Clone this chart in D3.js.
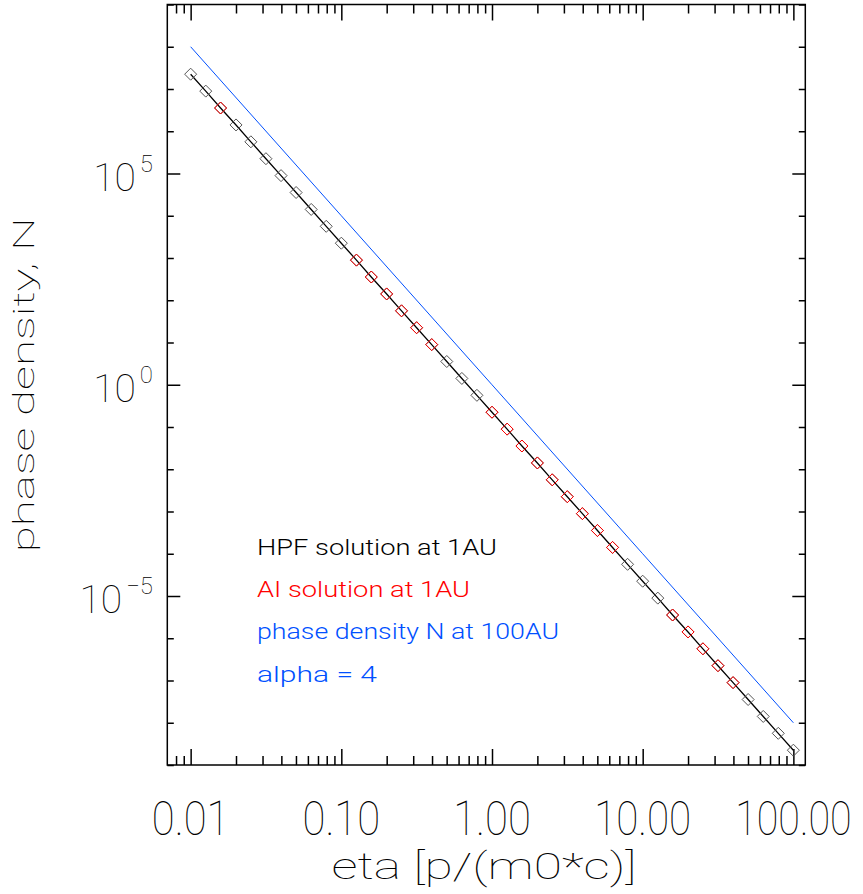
<!DOCTYPE html>
<html>
<head>
<meta charset="utf-8">
<script src="https://cdn.jsdelivr.net/npm/d3@7"></script>
<style>
  body { margin: 0; background: #fff; }
  text { font-family: Roboto, "DejaVu Sans", sans-serif; font-weight: 100; }
  text.legend { font-weight: 300; }
</style>
</head>
<body>
<div id="main"></div>
<script>
// eta grid (0.1 decade steps) and HPF solution at 1AU
let etaHPF = [0.0100, 0.0126, 0.0158, 0.0200, 0.0251, 0.0316, 0.0398, 0.0501, 0.0631, 0.0794,
	0.100, 0.126, 0.158, 0.200, 0.251, 0.316, 0.398, 0.501, 0.631, 0.794,
	1.00, 1.26, 1.58, 2.00, 2.51, 3.16, 3.98, 5.01, 6.31, 7.94,
	10.0, 12.6, 15.8, 20.0, 25.1, 31.6, 39.8, 50.1, 63.1, 79.4, 100];
let nHPF = [2.24e7, 8.91e6, 3.55e6, 1.41e6, 5.62e5, 2.24e5, 8.91e4, 3.55e4, 1.41e4, 5.62e3,
	2.24e3, 891, 355, 141, 56.2, 22.4, 8.91, 3.55, 1.41, 0.562,
	0.224, 0.0891, 0.0355, 0.0141, 5.62e-3, 2.24e-3, 8.91e-4, 3.55e-4, 1.41e-4, 5.62e-5,
	2.24e-5, 8.91e-6, 3.55e-6, 1.41e-6, 5.62e-7, 2.24e-7, 8.91e-8, 3.55e-8, 1.41e-8, 5.62e-9, 2.24e-9];

// AI solution at 1AU (red diamonds)
let etaAI = [0.0158,
	0.126, 0.158, 0.200, 0.251, 0.316, 0.398,
	1.00, 1.26, 1.58, 2.00, 2.51, 3.16, 3.98, 5.01, 6.31,
	15.8, 20.0, 25.1, 31.6, 39.8];
let nAI = [3.55e6,
	891, 355, 141, 56.2, 22.4, 8.91,
	0.224, 0.0891, 0.0355, 0.0141, 5.62e-3, 2.24e-3, 8.91e-4, 3.55e-4, 1.41e-4,
	3.55e-6, 1.41e-6, 5.62e-7, 2.24e-7, 8.91e-8];

// phase density N at 100AU
let eta100 = [0.01, 0.1, 1, 10, 100];
let n100 = [1e8, 1e4, 1, 1e-4, 1e-8];

let xTicks = [0.01, 0.1, 1, 10, 100];
let xTickLabels = ["0.01", "0.10", "1.00", "10.00", "100.00"];
let yTicks = [1e-5, 1, 1e5];
let yTickExp = ["\u22125", "0", "5"];

let legendLabels = ["HPF solution at 1AU", "AI solution at 1AU", "phase density N at 100AU", "alpha = 4"];
let legendColors = ["#000000", "#ff0000", "#0050ff", "#0050ff"];
let legendWidths = [240, 213, 302, 120];

const W = 863, H = 894;
const pLeft = 167.3, pRight = 805.3, pTop = 4.5, pBottom = 765;

let x = d3.scaleLog().domain([0.007, 120]).range([pLeft, pRight]);
let y = d3.scaleLog().domain([1e-9, 1e9]).range([pBottom, pTop]);

let svg = d3.select("#main").append("svg")
	.attr("width", W).attr("height", H);

// ticks
const xMinor = x.ticks().filter(v => !xTicks.some(t => Math.abs(t - v) / t < 1e-6) && v > 0.0075);
const yMinor = d3.range(-9, 10).map(e => Math.pow(10, e)).filter(v => !yTicks.includes(v));

const tickStyle = g => {
	g.select(".domain").remove();
	g.selectAll("line").attr("stroke", "#000").attr("stroke-width", 1.5);
	g.selectAll("text").remove();
};

svg.append("g").attr("transform", `translate(0,${pBottom})`)
	.call(d3.axisBottom(x).tickValues(xTicks).tickSize(-16)).call(tickStyle);
svg.append("g").attr("transform", `translate(0,${pBottom})`)
	.call(d3.axisBottom(x).tickValues(xMinor).tickSize(-9)).call(tickStyle);
svg.append("g").attr("transform", `translate(0,${pTop})`)
	.call(d3.axisTop(x).tickValues(xTicks).tickSize(-16)).call(tickStyle);
svg.append("g").attr("transform", `translate(0,${pTop})`)
	.call(d3.axisTop(x).tickValues(xMinor).tickSize(-9)).call(tickStyle);

svg.append("g").attr("transform", `translate(${pLeft},0)`)
	.call(d3.axisLeft(y).tickValues(yTicks).tickSize(-13)).call(tickStyle);
svg.append("g").attr("transform", `translate(${pLeft},0)`)
	.call(d3.axisLeft(y).tickValues(yMinor).tickSize(-6.5)).call(tickStyle);
svg.append("g").attr("transform", `translate(${pRight},0)`)
	.call(d3.axisRight(y).tickValues(yTicks).tickSize(-13)).call(tickStyle);
svg.append("g").attr("transform", `translate(${pRight},0)`)
	.call(d3.axisRight(y).tickValues(yMinor).tickSize(-6.5)).call(tickStyle);

// frame
svg.append("rect")
	.attr("x", pLeft).attr("y", pTop)
	.attr("width", pRight - pLeft).attr("height", pBottom - pTop)
	.attr("fill", "none").attr("stroke", "#000").attr("stroke-width", 1.5);

// x tick labels
svg.append("g").selectAll("text")
	.data(xTicks)
	.enter()
	.append("text")
		.attr("x", d => x(d))
		.attr("y", 835)
		.attr("text-anchor", "middle")
		.attr("font-size", 49)
		.attr("textLength", (d, i) => xTickLabels[i].length * 19.4)
		.attr("lengthAdjust", "spacingAndGlyphs")
		.text((d, i) => xTickLabels[i]);

// y tick labels
let yl = svg.append("g").selectAll("text")
	.data(yTicks)
	.enter()
	.append("text")
		.attr("x", 153)
		.attr("y", d => y(d) + 17)
		.attr("text-anchor", "end")
		.attr("font-size", 39);
yl.append("tspan").text("10");
yl.append("tspan")
	.attr("dy", -19)
	.attr("dx", 4)
	.attr("font-size", 24)
	.text((d, i) => yTickExp[i]);

// axis titles
svg.append("text")
	.attr("x", 484).attr("y", 879)
	.attr("text-anchor", "middle")
	.attr("font-size", 36)
	.attr("textLength", 305)
	.attr("lengthAdjust", "spacingAndGlyphs")
	.text("eta [p/(m0*c)]");

svg.append("text")
	.attr("transform", `translate(34,${(pTop + pBottom) / 2}) rotate(-90)`)
	.attr("text-anchor", "middle")
	.attr("font-size", 29)
	.attr("textLength", 335)
	.attr("lengthAdjust", "spacingAndGlyphs")
	.text("phase density, N");

// lines
let line = d3.line().x(d => x(d[0])).y(d => y(d[1]));

svg.append("path")
	.datum(eta100.map((e, i) => [e, n100[i]]))
	.attr("d", line)
	.attr("fill", "none").attr("stroke", "#0050ff").attr("stroke-width", 1);

svg.append("path")
	.datum(etaHPF.map((e, i) => [e, nHPF[i]]))
	.attr("d", line)
	.attr("fill", "none").attr("stroke", "#000").attr("stroke-width", 1.3);

// diamonds
const diamond = (cx, cy) => `M${cx},${cy - 6}L${cx + 6},${cy}L${cx},${cy + 6}L${cx - 6},${cy}Z`;

svg.append("g").selectAll("path")
	.data(etaHPF.map((e, i) => [e, nHPF[i]]))
	.enter()
	.append("path")
		.attr("d", d => diamond(x(d[0]), y(d[1])))
		.attr("fill", "none").attr("stroke", "#555").attr("stroke-width", 1);

svg.append("g").selectAll("path")
	.data(etaAI.map((e, i) => [e, nAI[i]]))
	.enter()
	.append("path")
		.attr("d", d => diamond(x(d[0]), y(d[1])))
		.attr("fill", "none").attr("stroke", "#ff0000").attr("stroke-width", 1);

// legend
svg.append("g").selectAll("text")
	.data(legendLabels)
	.enter()
	.append("text")
		.attr("class", "legend")
		.attr("x", 257)
		.attr("y", (d, i) => 554.5 + i * 42.4)
		.attr("font-size", 22)
		.attr("fill", (d, i) => legendColors[i])
		.attr("textLength", (d, i) => legendWidths[i])
		.attr("lengthAdjust", "spacingAndGlyphs")
		.text(d => d);
</script>
</body>
</html>
